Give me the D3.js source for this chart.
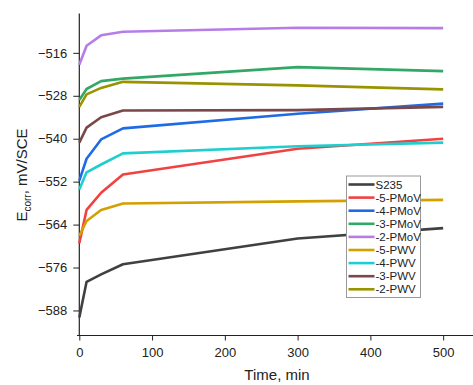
<!DOCTYPE html>
<html>
<head>
<meta charset="utf-8">
<script src="https://cdn.jsdelivr.net/npm/d3@7"></script>
<style>
  body { margin: 0; background: #fff; }
  text { font-family: "Liberation Sans", Arial, sans-serif; }
</style>
</head>
<body>
<svg id="chart" width="473" height="385"></svg>
<script>
// time points (min)
var times = [0, 10, 30, 60, 300, 500];

var seriesNames = ["S235", "-5-PMoV", "-4-PMoV", "-3-PMoV", "-2-PMoV", "-5-PWV", "-4-PWV", "-3-PWV", "-2-PWV"];
var seriesColors = ["#404040", "#f24141", "#1f6be6", "#33a866", "#b67de8", "#d4a000", "#1fcfcf", "#7a4848", "#999300"];

// Ecorr values, mV/SCE
var s235   = [-590.0, -580.0, -577.9, -575.1, -567.9, -565.0];
var pmov5  = [-569.2, -559.9, -555.1, -550.0, -542.8, -540.0];
var pmov4  = [-551.7, -545.6, -540.2, -537.1, -533.0, -530.2];
var pmov3  = [-529.2, -526.1, -523.9, -523.2, -520.0, -521.1];
var pmov2  = [-519.3, -514.0, -511.1, -510.1, -509.0, -509.1];
var pwv5   = [-567.2, -563.0, -559.9, -558.1, -557.5, -557.1];
var pwv4   = [-554.2, -549.4, -547.2, -544.1, -542.1, -541.1];
var pwv3   = [-541.1, -536.9, -534.0, -532.1, -532.0, -531.1];
var pwv2   = [-531.1, -527.6, -525.8, -524.1, -525.1, -526.2];

var allSeries = [s235, pmov5, pmov4, pmov3, pmov2, pwv5, pwv4, pwv3, pwv2];

var xTicks = [0, 100, 200, 300, 400, 500];
var yTicks = [-588, -576, -564, -552, -540, -528, -516];

var svg = d3.select("#chart");

var x = d3.scaleLinear().domain([0, 541]).range([79.3, 473]);
var y = d3.scaleLinear().domain([-595, -505]).range([335.5, 13.5]);

var fmt = function (d) { return d3.format("d")(d).replace("-", "\u2212"); };

// x axis
var gx = svg.append("g").attr("transform", "translate(0,335.5)");
gx.call(d3.axisBottom(x).tickValues(d3.range(0, 541, 50)).tickSize(3).tickFormat(""));
gx.call(d3.axisBottom(x).tickValues(xTicks).tickSize(5).tickPadding(7).tickFormat(d3.format("d")));
gx.selectAll(".domain").attr("stroke", "#222").attr("stroke-width", 1.2);
gx.selectAll("line").attr("stroke", "#222");
gx.selectAll("text").attr("font-size", "13px").attr("fill", "#222");
gx.selectAll(".domain").attr("d", "M77,0H473");

// y axis
var gy = svg.append("g").attr("transform", "translate(79.3,0)");
gy.call(d3.axisLeft(y).tickValues(d3.range(-594, -505, 6)).tickSize(3).tickFormat(""));
gy.call(d3.axisLeft(y).tickValues(yTicks).tickSize(6).tickPadding(6).tickFormat(fmt));
gy.selectAll(".domain").attr("stroke", "#222").attr("stroke-width", 1.2).attr("d", "M0,13.5V335.5");
gy.selectAll("line").attr("stroke", "#222");
gy.selectAll("text").attr("font-size", "13px").attr("fill", "#222");

// axis titles
svg.append("text")
  .attr("x", 277).attr("y", 380)
  .attr("text-anchor", "middle")
  .attr("font-size", "15px").attr("fill", "#222")
  .text("Time, min");

var yt = svg.append("text")
  .attr("transform", "translate(27,175) rotate(-90)")
  .attr("text-anchor", "middle")
  .attr("font-size", "15px").attr("fill", "#222");
yt.append("tspan").text("E");
yt.append("tspan").attr("font-size", "10px").attr("dy", 4).text("corr");
yt.append("tspan").attr("dy", -4).text(", mV/SCE");

// lines
var line = d3.line()
  .x(function (d, i) { return x(times[i]); })
  .y(function (d) { return y(d); });

svg.append("g").selectAll("path")
  .data(allSeries)
  .enter().append("path")
  .attr("d", line)
  .attr("fill", "none")
  .attr("stroke", function (d, i) { return seriesColors[i]; })
  .attr("stroke-width", 2.6)
  .attr("stroke-linejoin", "round");

// legend
var lg = svg.append("g").attr("transform", "translate(346.5,176)");
lg.append("rect")
  .attr("width", 74).attr("height", 121.5)
  .attr("fill", "#fff").attr("stroke", "#999").attr("stroke-width", 1);

var items = lg.selectAll("g.item")
  .data(seriesNames)
  .enter().append("g")
  .attr("transform", function (d, i) { return "translate(0," + (8.5 + i * 13.1) + ")"; });

items.append("line")
  .attr("x1", 2).attr("x2", 28)
  .attr("stroke", function (d, i) { return seriesColors[i]; })
  .attr("stroke-width", 2.6);

items.append("text")
  .attr("x", 29).attr("y", 4)
  .attr("font-size", "11.5px").attr("fill", "#222")
  .text(function (d) { return d; });
</script>
</body>
</html>
